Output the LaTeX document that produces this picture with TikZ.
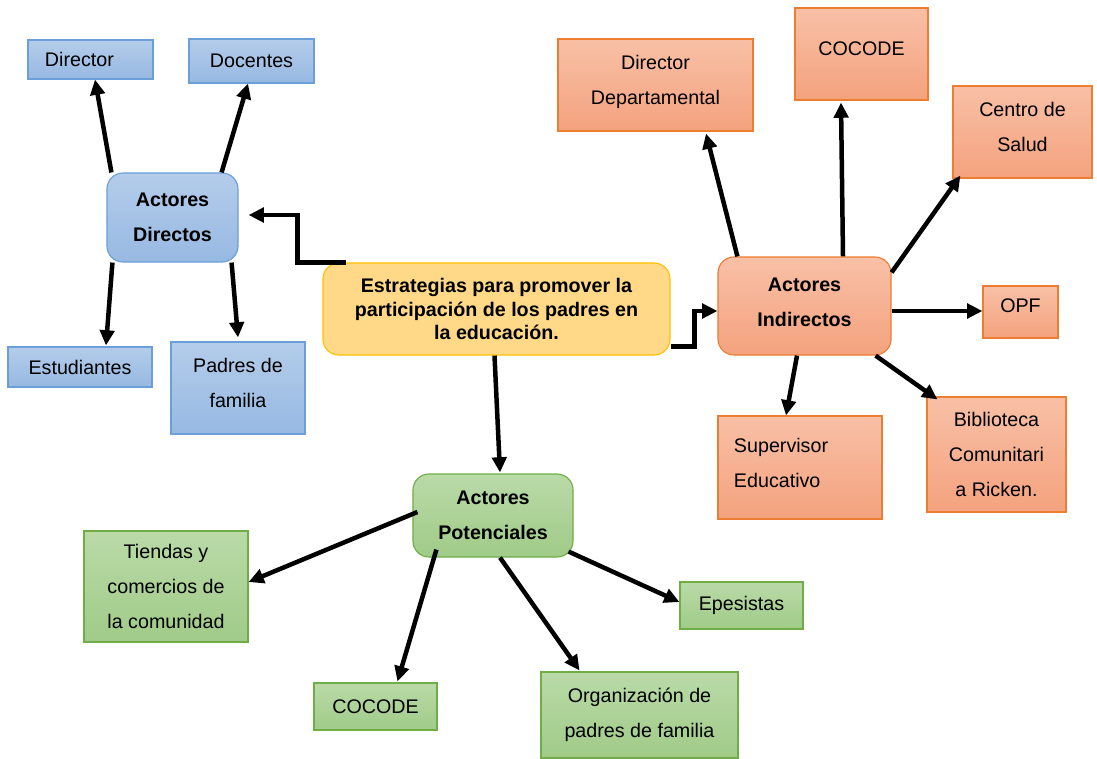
\documentclass[tikz,border=0pt]{standalone}
\usepackage{fontspec}
\setmainfont{Liberation Sans}
\usetikzlibrary{arrows.meta,calc}

\definecolor{bluetop}{HTML}{B4CCEA}
\definecolor{bluebot}{HTML}{97B9E2}
\definecolor{blueline}{HTML}{6A9FD8}
\definecolor{orangetop}{HTML}{F8C0A6}
\definecolor{orangebot}{HTML}{F4A27E}
\definecolor{orangeline}{HTML}{ED7D31}
\definecolor{greentop}{HTML}{BADAA8}
\definecolor{greenbot}{HTML}{A0CB88}
\definecolor{greenline}{HTML}{70AD47}
\definecolor{yellowfill}{HTML}{FFD988}
\definecolor{yellowline}{HTML}{FFC000}

\tikzset{
  leaf/.style={draw, line width=0.8pt, align=center, inner sep=2pt,
    font=\fontsize{14}{24.8}\selectfont},
  hub/.style={leaf, rounded corners=0.4cm, font=\bfseries\fontsize{14}{24.8}\selectfont},
  blueleaf/.style={draw=blueline, top color=bluetop, bottom color=bluebot},
  orangeleaf/.style={draw=orangeline, top color=orangetop, bottom color=orangebot},
  greenleaf/.style={draw=greenline, top color=greentop, bottom color=greenbot},
  lifted/.style={text depth=0.25cm},
  link/.style={line width=3.2pt, -{Triangle[length=0.38cm,width=0.36cm]}},
}

\begin{document}
\begin{tikzpicture}[x=0.025cm,y=-0.025cm]
		%%%%% START %%%%%
		\useasboundingbox (0,0) rectangle (1097,758);
		
		% centre
		\node[hub, draw=yellowline, fill=yellowfill, minimum width=8.675cm, minimum height=2.3cm,
		  font=\bfseries\fontsize{14}{17}\selectfont] (ctr) at (496.5,309)
		  {Estrategias para promover la\\participación de los padres en\\la educación.};
		
		% actores directos
		\node[hub, blueleaf, minimum width=3.275cm, minimum height=2.225cm] (ad) at (172.5,217.5) {Actores\\Directos};
		\node[leaf, blueleaf, minimum width=3.125cm, minimum height=0.975cm, text width=2.275cm, align=left] (dir) at (90.5,59.5) {Director};
		\node[leaf, blueleaf, minimum width=3.125cm, minimum height=1.1cm] (doc) at (251.5,61) {Docentes};
		\node[leaf, blueleaf, minimum width=3.6cm, minimum height=1cm] (est) at (80,367) {Estudiantes};
		\node[leaf, blueleaf, lifted, minimum width=3.35cm, minimum height=2.3cm] (pad) at (238,388) {Padres de\\familia};
		
		% actores indirectos
		\node[hub, orangeleaf, text depth=0.2cm, minimum width=4.325cm, minimum height=2.45cm] (ai) at (804.5,306) {Actores\\Indirectos};
		\node[leaf, orangeleaf, lifted, minimum width=4.875cm, minimum height=2.3cm] (ddep) at (655.5,85) {Director\\Departamental};
		\node[leaf, orangeleaf, text depth=0.25cm, minimum width=3.325cm, minimum height=2.3cm] (coc1) at (861.5,54) {COCODE};
		\node[leaf, orangeleaf, lifted, minimum width=3.475cm, minimum height=2.3cm] (cs) at (1022.5,132) {Centro de\\Salud};
		\node[leaf, orangeleaf, text depth=0.3cm, minimum width=1.875cm, minimum height=1.3cm] (opf) at (1020.5,312) {OPF};
		\node[leaf, orangeleaf, text depth=1.1cm, minimum width=4.1cm, minimum height=2.575cm, text width=3.3cm, align=left] (sup) at (800,467.5) {Supervisor\\Educativo};
		\node[leaf, orangeleaf, minimum width=3.475cm, minimum height=2.875cm] (bib) at (996.5,454.5) {Biblioteca\\Comunitari\\a Ricken.};
		
		% actores potenciales
		\node[hub, greenleaf, minimum width=4cm, minimum height=2.075cm] (ap) at (493,515.5) {Actores\\Potenciales};
		\node[leaf, greenleaf, minimum width=4.1cm, minimum height=2.775cm] (tie) at (166,586.5) {Tiendas y\\comercios de\\la comunidad};
		\node[leaf, greenleaf, minimum width=3.075cm, minimum height=1.175cm] (coc2) at (375.5,706.5) {COCODE};
		\node[leaf, greenleaf, minimum width=3.075cm, minimum height=1.175cm] (epe) at (741.5,605.5) {Epesistas};
		\node[leaf, greenleaf, minimum width=4.925cm, minimum height=2.15cm] (org) at (639.5,715) {Organización de\\padres de familia};
		
		% links from the centre
		\draw[link] ($(ctr.north west)+(24,0)$) -- ++(-49,0) |- ($(ad.east)+(10,-2.5)$);
		\draw[link] ($(ctr.south east)+(0,-9)$) -- ++(24,0) |- ($(ai.west)+(0,5)$);
		\draw[link] ($(ctr.south)+(-2,0)$) -- ($(ap.north)+(7,-1)$);
		
		% links of actores directos
		\draw[link] ($(ad.north west)+(5,0)$) -- ($(dir.south)+(4.5,0)$);
		\draw[link] ($(ad.north east)+(-17,0)$) -- ($(doc.south)+(-3.5,0)$);
		\draw[link] ($(ad.south west)+(6,0)$) -- ($(est.north)+(26,-1)$);
		\draw[link] ($(ad.south east)+(-7,0)$) -- ($(pad.north)+(0,-4)$);
		
		% links of actores indirectos
		\draw[link] ($(ai.north west)+(20,0)$) -- ($(ddep.south)+(50.5,2)$);
		\draw[link] ($(ai.north)+(38.5,0)$) -- ($(coc1.south)+(-20.5,2)$);
		\draw[link] ($(ai.north east)+(0,16)$) -- ($(cs.south west)+(8,-3)$);
		\draw[link] ($(ai.east)+(0,5)$) -- ($(opf.west)+(0,-1)$);
		\draw[link] ($(ai.south)+(-7.5,0)$) -- ($(sup.north)+(-14,0)$);
		\draw[link] ($(ai.south east)+(-16,0)$) -- ($(bib.north west)+(11,3)$);
		
		% links of actores potenciales
		\draw[link] ($(ap.west)+(5,-3.5)$) -- ($(tie.east)+(0,-4.5)$);
		\draw[link] ($(ap.south west)+(24,-8)$) -- ($(coc2.north)+(22,-1)$);
		\draw[link] ($(ap.south)+(7,0)$) -- ($(org.north)+(-60,-1)$);
		\draw[link] ($(ap.south east)+(-5,-6)$) -- ($(epe.west)+(0,-3.5)$);
		
		%%%%% END %%%%%
\end{tikzpicture}
\end{document}
